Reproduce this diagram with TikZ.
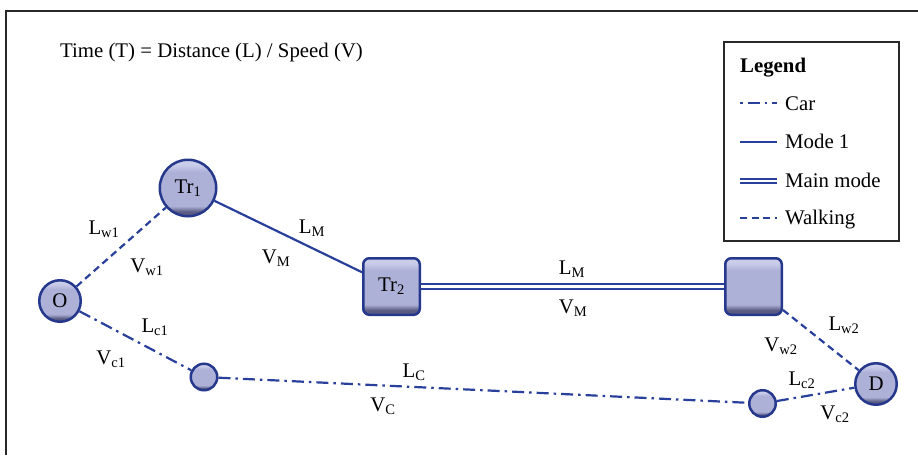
\documentclass[tikz,border=0pt]{standalone}
\usepackage{fontspec}
\setmainfont{Liberation Serif}
\definecolor{lineblue}{RGB}{40,64,155}
\definecolor{rimblue}{RGB}{38,56,140}
\definecolor{nodeDark}{RGB}{88,90,130}
\definecolor{nodeMid}{RGB}{173,176,215}
\definecolor{nodeLight}{RGB}{202,205,234}
\definecolor{framegray}{RGB}{40,40,40}
\pgfdeclareverticalshading{nodeshade}{100bp}{color(0bp)=(nodeDark); color(25bp)=(nodeDark); color(29bp)=(nodeDark); color(34bp)=(nodeMid); color(64bp)=(nodeMid); color(71bp)=(nodeLight); color(75bp)=(nodeLight); color(100bp)=(nodeLight)}
\tikzset{
  txt/.style={font=\fontsize{20.8}{24}\selectfont, inner sep=0pt, text=black},
  circ/.style={circle, draw=rimblue, line width=2.5pt, shading=nodeshade, inner sep=0pt, txt},
  sqbox/.style={rectangle, rounded corners=6pt, draw=rimblue, line width=2.5pt, shading=nodeshade, inner sep=0pt, minimum size=56.5pt, txt},
  walk/.style={draw=lineblue, line width=2.2pt, dash pattern=on 7pt off 4.5pt},
  carline/.style={draw=lineblue, line width=2.2pt, dash pattern=on 12pt off 5pt on 2.5pt off 5pt},
  modeone/.style={draw=lineblue, line width=2.2pt},
  mainmode/.style={draw=lineblue, line width=1.8pt, double=white, double distance=2.6pt},
}
\begin{document}
\begin{tikzpicture}[x=1pt,y=-1pt]
\useasboundingbox (0,0) rectangle (918,455);
\fill[white] (0,0) rectangle (918,455);
% frame
\draw[framegray, line width=2pt] (6,455) -- (6,11) -- (918,11);
% title
\node[txt, anchor=base west] (title) at (60,57) {Time (T) = Distance (L) / Speed (V)};
% nodes
\node[circ, minimum size=41.5pt] (O) at (60,301) {O};
\node[circ, minimum size=56.5pt] (T1) at (188,188) {Tr\textsubscript{1}};
\node[sqbox] (T2) at (391.5,286.5) {Tr\textsubscript{2}};
\node[sqbox] (T3) at (753.5,286.5) {};
\node[circ, minimum size=41.5pt] (D) at (876,384) {D};
\node[circ, minimum size=26.5pt] (S1) at (204,377) {};
\node[circ, minimum size=26.5pt] (S2) at (762.5,403.5) {};
% connectors
\draw[walk] (O) -- (T1);
\draw[modeone] (T1) -- (T2);
\draw[mainmode] (T2) -- (T3);
\draw[walk] (T3) -- (D);
\draw[carline] (O) -- (S1);
\draw[carline] (S1) -- (S2);
\draw[carline] (S2) -- (D);
% labels
\node[txt] (lw1) at (104,229) {L\textsubscript{w1}};
\node[txt] (vw1) at (147,267) {V\textsubscript{w1}};
\node[txt] (lm1) at (312,228) {L\textsubscript{M}};
\node[txt] (vm1) at (276,258) {V\textsubscript{M}};
\node[txt] (lm2) at (572,269) {L\textsubscript{M}};
\node[txt] (vm2) at (573,308) {V\textsubscript{M}};
\node[txt] (lc1) at (155,327) {L\textsubscript{c1}};
\node[txt] (vc1) at (111,359) {V\textsubscript{c1}};
\node[txt] (lc) at (414,372) {L\textsubscript{C}};
\node[txt] (vc) at (383,406) {V\textsubscript{C}};
\node[txt] (lw2) at (844,325) {L\textsubscript{w2}};
\node[txt] (vw2) at (781,346) {V\textsubscript{w2}};
\node[txt] (lc2) at (802,380) {L\textsubscript{c2}};
\node[txt] (vc2) at (835,414) {V\textsubscript{c2}};
% legend
\draw[framegray, line width=1.5pt] (724,42) rectangle (899,241);
\node[txt, anchor=base west, font=\fontsize{20.8}{24}\selectfont\bfseries] (leg) at (740,72) {Legend};
\coordinate (a1) at (740,103); \coordinate (a2) at (777,103);
\coordinate (b1) at (740,142); \coordinate (b2) at (777,142);
\coordinate (c1) at (740,181); \coordinate (c2) at (777,181);
\coordinate (d1) at (740,218); \coordinate (d2) at (777,218);
\draw[carline, dash pattern=on 2.5pt off 5pt on 12pt off 5pt] (a1) -- (a2);
\draw[modeone] (b1) -- (b2);
\draw[mainmode] (c1) -- (c2);
\draw[walk] (d1) -- (d2);
\node[txt, anchor=base west] (lcar) at (785,110) {Car};
\node[txt, anchor=base west] (lmode) at (785,148) {Mode 1};
\node[txt, anchor=base west] (lmain) at (785,187) {Main mode};
\node[txt, anchor=base west] (lwalk) at (785,224) {Walking};
\end{tikzpicture}
\end{document}
